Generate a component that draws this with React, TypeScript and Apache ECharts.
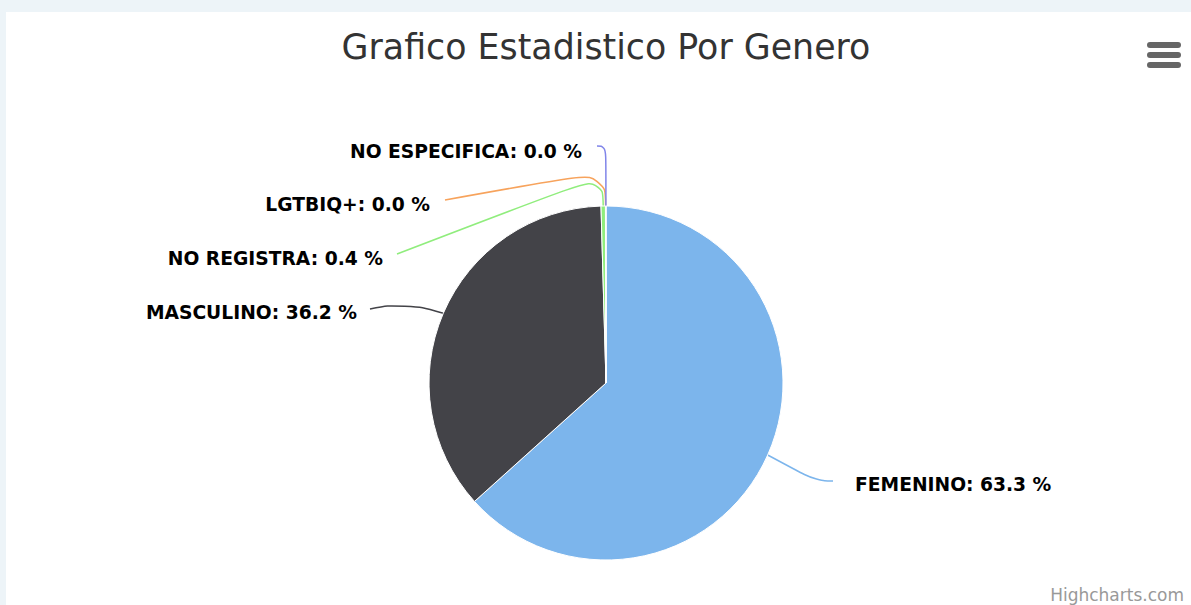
import React, { useEffect, useRef } from "react";
import * as echarts from "echarts";

// ---- data ----
const categories = ["FEMENINO", "MASCULINO", "NO REGISTRA", "LGTBIQ+", "NO ESPECIFICA"];
const percentages = [63.3, 36.2, 0.4, 0.03, 0.02];
const colors = ["#7cb5ec", "#434348", "#90ed7d", "#f7a35c", "#8085e9"];
const titleText = "Grafico Estadistico Por Genero";
const creditText = "Highcharts.com";

// ---- label placement (offsets from the pie centre) ----
// [labelDx, labelDy, align, elbowDx, elbowDy, endDx, endDy]
const labelPlacement: [number, number, string, number, number, number, number][] = [
  [249, 101, "left", 210, 98, 227, 98],
  [-249, -71, "right", -201, -81, -236, -74],
  [-223, -125, "right", -3.3, -208, -209, -129],
  [-176, -179, "right", -0.6, -212, -161, -183],
  [-24, -232, "right", 0, -237, -9, -237],
];

const CX = 600;
const CY = 371;
const R = 177;

export default function App() {
  const ref = useRef<HTMLDivElement>(null);
  useEffect(() => {
    if (!ref.current) return;
    const chart = echarts.init(ref.current, null, { renderer: "svg" });
    const data = categories.map((name, i) => ({
      name,
      value: percentages[i],
      itemStyle: { color: colors[i] },
    }));
    chart.setOption({
      animation: false,
      backgroundColor: "#ffffff",
      graphic: [
        {
          type: "text",
          x: CX,
          y: 35,
          style: {
            text: titleText,
            fill: "#333333",
            fontSize: 34.8,
            fontFamily: "DejaVu Sans",
            textAlign: "center",
            textVerticalAlign: "middle",
          },
        },
        { type: "rect", shape: { x: 1141, y: 30, width: 34, height: 6, r: 3 }, style: { fill: "#666666" } },
        { type: "rect", shape: { x: 1141, y: 40, width: 34, height: 6, r: 3 }, style: { fill: "#666666" } },
        { type: "rect", shape: { x: 1141, y: 50, width: 34, height: 6, r: 3 }, style: { fill: "#666666" } },
        {
          type: "text",
          x: 1178,
          y: 583,
          style: {
            text: creditText,
            fill: "#999999",
            fontSize: 17,
            fontFamily: "DejaVu Sans",
            textAlign: "right",
            textVerticalAlign: "middle",
          },
        },
      ],
      series: [
        {
          type: "pie",
          center: [CX, CY],
          radius: R,
          startAngle: 90,
          clockwise: true,
          silent: true,
          avoidLabelOverlap: false,
          data,
          itemStyle: { borderColor: "#ffffff", borderWidth: 1 },
          label: {
            show: true,
            position: "outside",
            formatter: (p: any) => `${p.name}: ${Number(p.value).toFixed(1)} %`,
            color: "#000000",
            fontSize: 18.7,
            fontWeight: "bold",
            fontFamily: "DejaVu Sans",
            textBorderColor: "#ffffff",
            textBorderWidth: 1,
          },
          labelLine: {
            show: true,
            smooth: 0.5,
            length: 20,
            length2: 20,
            lineStyle: { width: 1.5 },
          },
          labelLayout: (params: any) => {
            const pl = labelPlacement[params.dataIndex];
            const start =
              params.labelLinePoints && params.labelLinePoints[0]
                ? params.labelLinePoints[0]
                : [CX, CY - R];
            return {
              x: CX + pl[0],
              y: CY + pl[1],
              align: pl[2],
              verticalAlign: "middle",
              labelLinePoints: [
                start,
                [CX + pl[3], CY + pl[4]],
                [CX + pl[5], CY + pl[6]],
              ],
            };
          },
        },
      ],
    });
    return () => chart.dispose();
  }, []);

  return (
    <div
      style={{
        position: "absolute",
        left: 0,
        top: 0,
        width: 1191,
        height: 605,
        background: "#edf4f8",
        overflow: "hidden",
      }}
    >
      <div
        ref={ref}
        style={{ position: "absolute", left: 6, top: 12, width: 1185, height: 593 }}
      />
    </div>
  );
}
